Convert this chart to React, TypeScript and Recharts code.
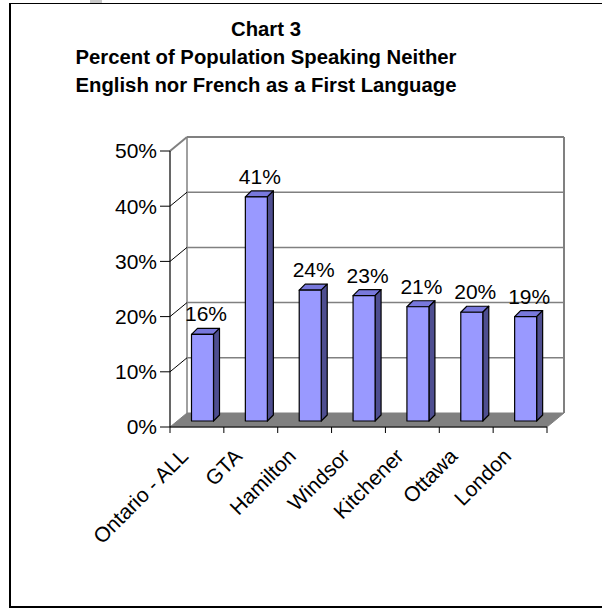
import { BarChart, Bar, XAxis, YAxis, CartesianGrid, LabelList } from 'recharts';

const cities = ['Ontario - ALL', 'GTA', 'Hamilton', 'Windsor', 'Kitchener', 'Ottawa', 'London'];
const shareNeither = [0.157, 0.406, 0.237, 0.227, 0.207, 0.197, 0.189];
const pctTicks = [0, 0.1, 0.2, 0.3, 0.4, 0.5];
const titleLines = ['Chart 3', 'Percent of Population Speaking Neither', 'English nor French as a First Language'];

const data = cities.map((name, i) => ({ name, value: shareNeither[i] }));

// oblique depth of the back wall, and of the bars
const DX = 17;
const DY = 14;
const BX = 5.5;
const BY = 6;
const D = 6;
const TICK = 6;
const GAP = 2;
const FONT = '"Liberation Sans", Arial, sans-serif';
const pct = (v: number) => `${Math.round(v * 100)}%`;

function Bar3D(props: any) {
  const { x, y, width, height } = props;
  if (!height) return null;
  const fx = x + BX;
  const fy = y - BY;
  return (
    <g stroke="#000" strokeWidth={1.2} strokeLinejoin="round">
      <polygon points={`${fx},${fy} ${fx + D},${fy - D} ${fx + width + D},${fy - D} ${fx + width},${fy}`} fill="#7878dc" />
      <polygon
        points={`${fx + width},${fy} ${fx + width + D},${fy - D} ${fx + width + D},${fy + height - D} ${fx + width},${fy + height}`}
        fill="#4e4e90"
      />
      <rect x={fx} y={fy} width={width} height={height} fill="#9999ff" />
    </g>
  );
}

// back wall, side wall and floor, hung on the grid lines
function WallLine(props: any) {
  const { x1, x2, y1 } = props;
  const top = props.y;
  const bottom = props.y + props.height;
  const isFloor = Math.abs(y1 - bottom) < 1;
  const isTop = Math.abs(y1 - top) < 1;
  if (isFloor) {
    return (
      <g key={props.key}>
        <polygon points={`${x1},${y1} ${x2},${y1} ${x2 + DX},${y1 - DY} ${x1 + DX},${y1 - DY}`} fill="#808080" stroke="#808080" />
        <line x1={x1 + DX} y1={top - DY} x2={x1 + DX} y2={y1 - DY} stroke="#808080" strokeWidth={1.5} />
        <line x1={x2 + DX} y1={top - DY} x2={x2 + DX} y2={y1 - DY} stroke="#808080" strokeWidth={2} />
      </g>
    );
  }
  return (
    <g key={props.key}>
      <line x1={x1 + DX} y1={y1 - DY} x2={x2 + DX} y2={y1 - DY} stroke="#808080" strokeWidth={isTop ? 2 : 1.5} />
      <line x1={x1} y1={y1} x2={x1 + DX} y2={y1 - DY} stroke={isTop ? '#808080' : '#000'} strokeWidth={isTop ? 2 : 1} />
    </g>
  );
}

// category labels, with tick marks on the band edges as in Excel
function CityTick(props: any) {
  const { x, y, payload, index, visibleTicksCount, width } = props;
  const half = width / visibleTicksCount / 2;
  const axisY = y - TICK - GAP;
  return (
    <g>
      <line x1={x - half} y1={axisY} x2={x - half} y2={axisY + TICK} stroke="#000" />
      {index === visibleTicksCount - 1 && <line x1={x + half} y1={axisY} x2={x + half} y2={axisY + TICK} stroke="#000" />}
      <text
        transform={`translate(${x - 18},${axisY + 20}) rotate(-45)`}
        textAnchor="end"
        dy="0.71em"
        fontSize={21}
        fontFamily={FONT}
        fill="#000"
      >
        {payload.value}
      </text>
    </g>
  );
}

function ValueLabel(p: any) {
  return (
    <text x={p.x + p.width / 2 + 9} y={p.y - 19} textAnchor="middle" fontSize={21} fontFamily={FONT} fill="#000">
      {pct(p.value)}
    </text>
  );
}

export default function App() {
  return (
    <div style={{ position: 'absolute', left: 0, top: 0, width: 602, height: 611, overflow: 'hidden', background: '#fff' }}>
      <div style={{ position: 'absolute', left: 90, top: 0, width: 12, height: 3, background: '#c8c8c8' }} />
      <div
        style={{
          position: 'absolute',
          left: 9,
          top: 3,
          width: 700,
          height: 602,
          borderTop: '1.5px solid #000',
          borderLeft: '2px solid #000',
          borderBottom: '2px solid #000',
        }}
      />
      <div style={{ position: 'absolute', left: 0, top: 15, width: 532, textAlign: 'center', fontFamily: FONT, fontWeight: 'bold', fontSize: 20.3, lineHeight: '28px', color: '#000' }}>
        {titleLines.map((t) => (
          <div key={t}>{t}</div>
        ))}
      </div>
      <BarChart
        width={602}
        height={611}
        data={data}
        margin={{ top: 151, right: 55, bottom: 84, left: 110 }}
        style={{ position: 'absolute', left: 0, top: 0 }}
      >
        <CartesianGrid vertical={false} horizontal={WallLine} />
        <XAxis
          dataKey="name"
          interval={0}
          height={100}
          tick={<CityTick />}
          axisLine={{ stroke: '#000', strokeWidth: 1.2 }}
          tickLine={false}
          tickSize={TICK}
          tickMargin={GAP}
        />
        <YAxis
          domain={[0, 0.5]}
          ticks={pctTicks}
          tickFormatter={pct}
          width={60}
          tickSize={10}
          tickMargin={3}
          axisLine={{ stroke: '#000', strokeWidth: 1.2 }}
          tickLine={{ stroke: '#000' }}
          tick={{ fontSize: 21, fontFamily: FONT, fill: '#000' }}
        />
        <Bar dataKey="value" barSize={22} shape={<Bar3D />} isAnimationActive={false}>
          <LabelList dataKey="value" content={<ValueLabel />} />
        </Bar>
      </BarChart>
    </div>
  );
}
